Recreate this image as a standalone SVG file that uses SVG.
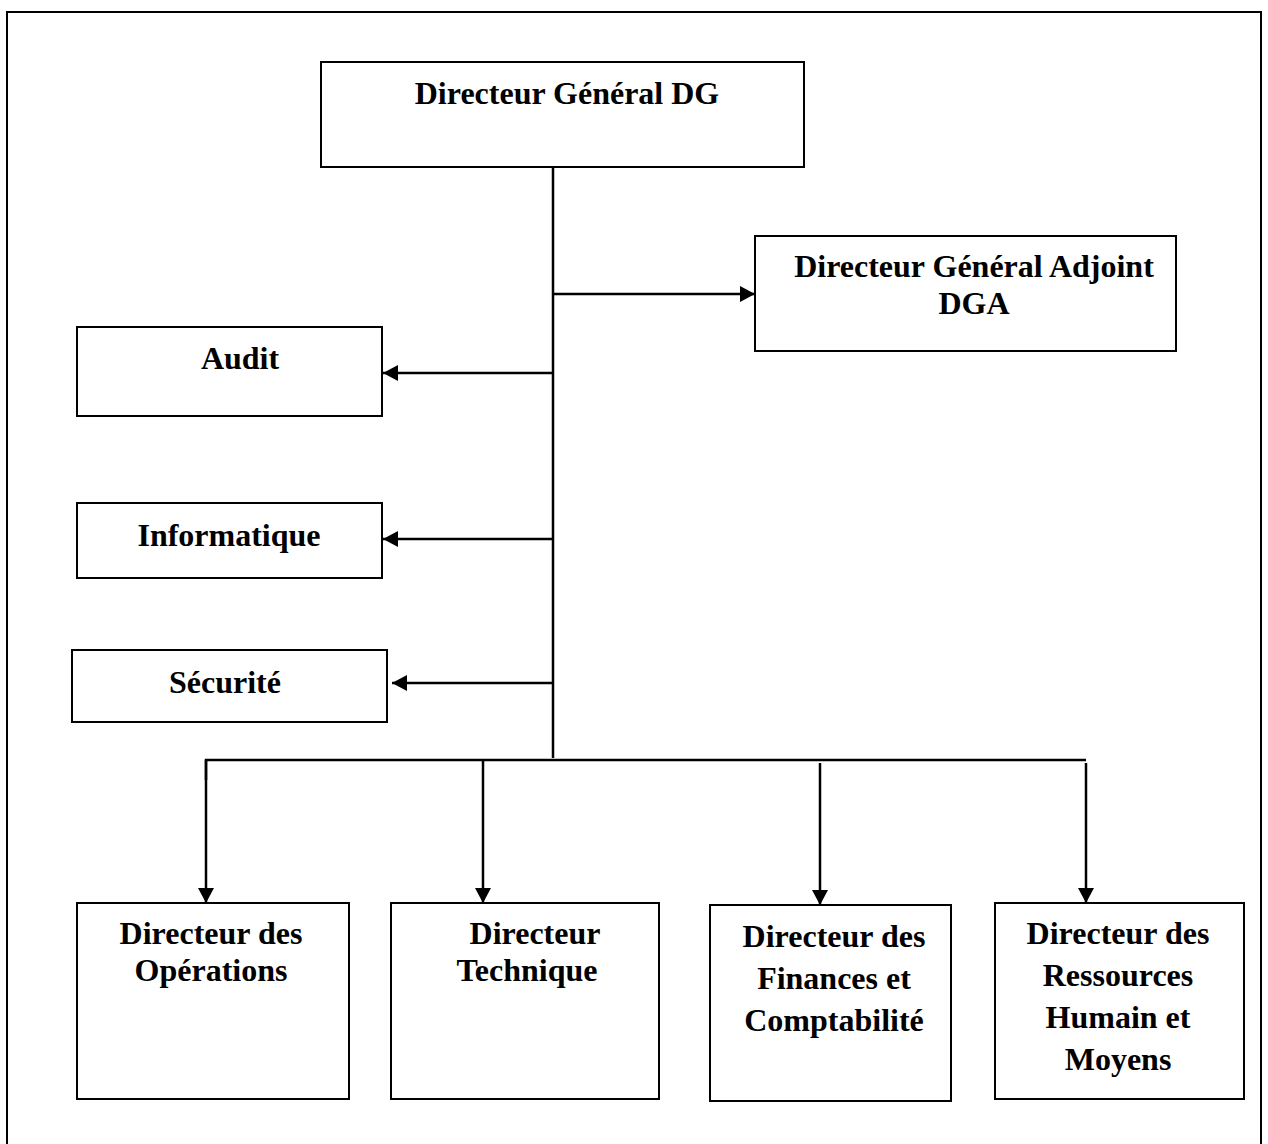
<svg xmlns="http://www.w3.org/2000/svg" width="1268" height="1144" viewBox="0 0 1268 1144">
<style>
.box{fill:#fff;stroke:#000;stroke-width:2}
.t{font-family:"Liberation Serif","Times New Roman",serif;font-weight:bold;font-size:32px;fill:#000;text-anchor:middle}
.c{fill:none;stroke:#000;stroke-width:2.5}
</style>
<defs>
<marker id="ah" markerUnits="userSpaceOnUse" markerWidth="15" markerHeight="16" refX="15" refY="8" orient="auto">
<path d="M0,0 L15,8 L0,16 z" fill="#000"/>
</marker>
</defs>
<rect x="7" y="12" width="1254" height="1150" fill="#fff" stroke="#000" stroke-width="2"/>
<g id="connectors">
<line class="c" x1="553" y1="167" x2="553" y2="758"/>
<line class="c" x1="553" y1="294" x2="755" y2="294" marker-end="url(#ah)"/>
<line class="c" x1="553" y1="373" x2="383" y2="373" marker-end="url(#ah)"/>
<line class="c" x1="553" y1="539" x2="383" y2="539" marker-end="url(#ah)"/>
<line class="c" x1="553" y1="683" x2="392" y2="683" marker-end="url(#ah)"/>
<polyline class="c" points="206,780 206,760 1086,760"/>
<line class="c" x1="206" y1="760" x2="206" y2="903" marker-end="url(#ah)"/>
<line class="c" x1="483" y1="760" x2="483" y2="903" marker-end="url(#ah)"/>
<line class="c" x1="820" y1="763" x2="820" y2="905" marker-end="url(#ah)"/>
<line class="c" x1="1086" y1="763" x2="1086" y2="903" marker-end="url(#ah)"/>
</g>
<g id="dg">
<rect class="box" x="321" y="62" width="483" height="105"/>
<text class="t" x="567" y="104">Directeur Général DG</text>
</g>
<g id="dga">
<rect class="box" x="755" y="236" width="421" height="115"/>
<text class="t" x="974" y="277">Directeur Général Adjoint</text>
<text class="t" x="974" y="314">DGA</text>
</g>
<g id="audit">
<rect class="box" x="77" y="327" width="305" height="89"/>
<text class="t" x="240" y="369">Audit</text>
</g>
<g id="informatique">
<rect class="box" x="77" y="503" width="305" height="75"/>
<text class="t" x="229" y="546">Informatique</text>
</g>
<g id="securite">
<rect class="box" x="72" y="650" width="315" height="72"/>
<text class="t" x="225" y="693">Sécurité</text>
</g>
<g id="operations">
<rect class="box" x="77" y="903" width="272" height="196"/>
<text class="t" x="211" y="944">Directeur des</text>
<text class="t" x="211" y="981">Opérations</text>
</g>
<g id="technique">
<rect class="box" x="391" y="903" width="268" height="196"/>
<text class="t" x="535" y="944">Directeur</text>
<text class="t" x="527" y="981">Technique</text>
</g>
<g id="finances">
<rect class="box" x="710" y="905" width="241" height="196"/>
<text class="t" x="834" y="947">Directeur des</text>
<text class="t" x="834" y="989">Finances et</text>
<text class="t" x="834" y="1031">Comptabilité</text>
</g>
<g id="rh">
<rect class="box" x="995" y="903" width="249" height="196"/>
<text class="t" x="1118" y="944">Directeur des</text>
<text class="t" x="1118" y="986">Ressources</text>
<text class="t" x="1118" y="1028">Humain et</text>
<text class="t" x="1118" y="1070">Moyens</text>
</g>
</svg>
